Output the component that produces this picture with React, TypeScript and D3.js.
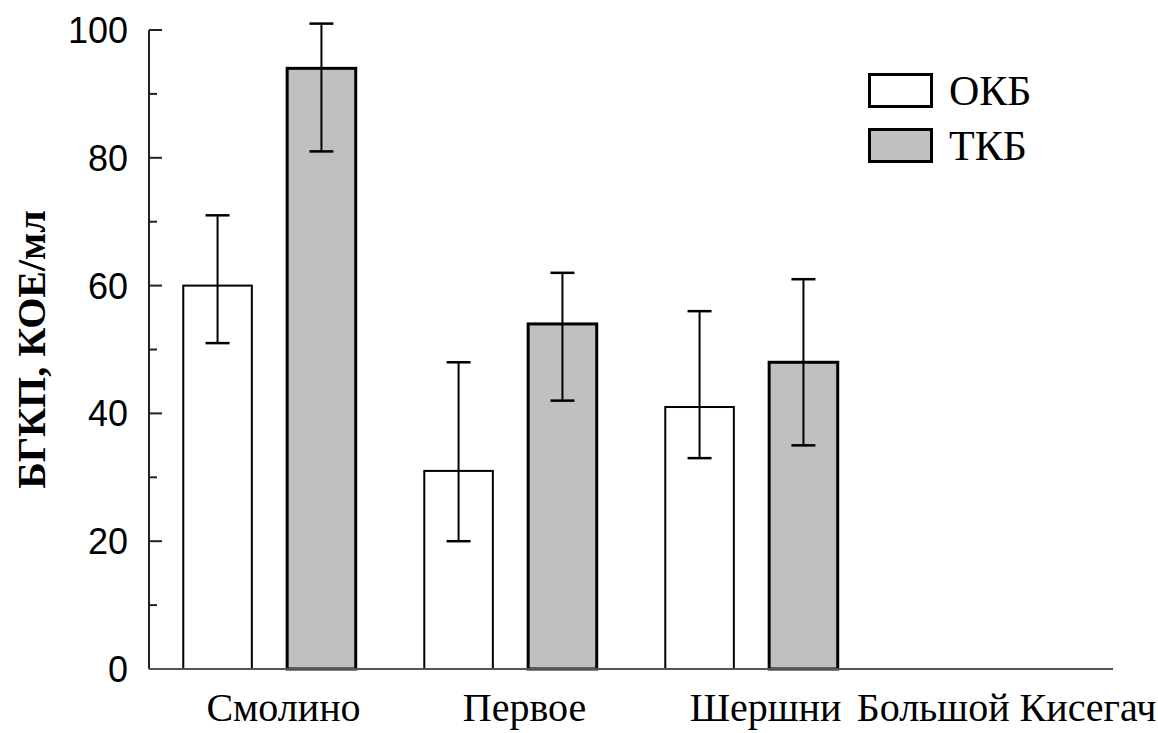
import { useEffect, useRef } from "react";
import * as d3 from "d3";

const categories = ["Смолино", "Первое", "Шершни", "Большой Кисегач"];
const series = ["ОКБ", "ТКБ"];
const okbValues = [60, 31, 41, null];
const okbLow = [51, 20, 33, null];
const okbHigh = [71, 48, 56, null];
const tkbValues = [94, 54, 48, null];
const tkbLow = [81, 42, 35, null];
const tkbHigh = [101, 62, 61, null];
const yTicks = [0, 20, 40, 60, 80, 100];
const yMinorTicks = [10, 30, 50, 70, 90];
const fills = ["#ffffff", "#c0c0c0"];

export default function App() {
  const ref = useRef<SVGSVGElement>(null);

  useEffect(() => {
    const width = 1158;
    const height = 733;
    const margin = { top: 30, right: 45, bottom: 64, left: 149 };
    const innerH = height - margin.top - margin.bottom;
    const innerW = width - margin.left - margin.right;
    const serif = "'Liberation Serif', 'Times New Roman', serif";
    const sans = "'Liberation Sans', Arial, sans-serif";

    const root = d3.select(ref.current);
    root.selectAll("*").remove();
    const svg = root.append("g").attr("transform", `translate(${margin.left},${margin.top})`);

    const x = d3.scaleBand().domain(categories).range([0, innerW]).padding(0);
    const xs = d3.scaleBand().domain(series).range([0, x.bandwidth()]).paddingInner(0.34).paddingOuter(0.33);
    const y = d3.scaleLinear().domain([0, 100]).range([innerH, 0]);

    const rows = categories.map((c, i) => [
      { cat: c, s: series[0], v: okbValues[i], lo: okbLow[i], hi: okbHigh[i], k: 0 },
      { cat: c, s: series[1], v: tkbValues[i], lo: tkbLow[i], hi: tkbHigh[i], k: 1 },
    ]).flat().filter(d => d.v != null);

    // bars
    svg.selectAll("rect.bar")
      .data(rows)
      .enter()
      .append("rect")
      .attr("class", "bar")
      .attr("x", d => x(d.cat)! + xs(d.s)!)
      .attr("y", d => y(d.v as number))
      .attr("width", xs.bandwidth())
      .attr("height", d => innerH - y(d.v as number))
      .attr("fill", d => fills[d.k])
      .attr("stroke", "#000")
      .attr("stroke-width", d => (d.k === 0 ? 2 : 3));

    // error bars
    const eb = svg.selectAll("g.err").data(rows).enter().append("g").attr("class", "err")
      .attr("transform", d => `translate(${x(d.cat)! + xs(d.s)! + xs.bandwidth() / 2},0)`);
    eb.append("line").attr("x1", 0).attr("x2", 0)
      .attr("y1", d => y(d.lo as number)).attr("y2", d => y(d.hi as number))
      .attr("stroke", "#000").attr("stroke-width", 2);
    eb.append("line").attr("x1", -12).attr("x2", 12)
      .attr("y1", d => y(d.lo as number)).attr("y2", d => y(d.lo as number))
      .attr("stroke", "#000").attr("stroke-width", 2.5);
    eb.append("line").attr("x1", -12).attr("x2", 12)
      .attr("y1", d => y(d.hi as number)).attr("y2", d => y(d.hi as number))
      .attr("stroke", "#000").attr("stroke-width", 2.5);

    // y axis
    const yAxis = svg.append("g");
    yAxis.append("line").attr("x1", 0).attr("x2", 0).attr("y1", 0).attr("y2", innerH)
      .attr("stroke", "#222").attr("stroke-width", 2);
    yAxis.selectAll("line.maj").data(yTicks).enter().append("line")
      .attr("x1", 0).attr("x2", 13).attr("y1", d => y(d)).attr("y2", d => y(d))
      .attr("stroke", "#222").attr("stroke-width", 2);
    yAxis.selectAll("line.min").data(yMinorTicks).enter().append("line")
      .attr("x1", 0).attr("x2", 8).attr("y1", d => y(d)).attr("y2", d => y(d))
      .attr("stroke", "#222").attr("stroke-width", 2);
    yAxis.selectAll("text").data(yTicks).enter().append("text")
      .attr("x", -21).attr("y", d => y(d)).attr("dy", "0.36em")
      .attr("text-anchor", "end").attr("font-family", sans).attr("font-size", 36)
      .attr("fill", "#000").text(d => d);

    // x axis
    svg.append("line").attr("x1", 0).attr("x2", innerW).attr("y1", innerH).attr("y2", innerH)
      .attr("stroke", "#555").attr("stroke-width", 2);
    svg.selectAll("text.cat").data(categories).enter().append("text")
      .attr("class", "cat")
      .attr("x", d => x(d)! + x.bandwidth() / 2 + 14)
      .attr("y", innerH + 52)
      .attr("text-anchor", "middle").attr("font-family", serif).attr("font-size", 40)
      .attr("fill", "#000").text(d => d);

    // y title
    svg.append("text")
      .attr("transform", `translate(${-margin.left + 45},${innerH / 2}) rotate(-90)`)
      .attr("text-anchor", "middle").attr("font-family", serif).attr("font-size", 40)
      .attr("font-weight", "bold").attr("fill", "#000").text("БГКП, КОЕ/мл");

    // legend
    const lg = svg.append("g").attr("transform", `translate(${868 - margin.left},${73 - margin.top})`);
    series.forEach((s, i) => {
      lg.append("rect").attr("x", 1.5).attr("y", i * 55 + 1.5).attr("width", 62).attr("height", 32)
        .attr("fill", fills[i]).attr("stroke", "#000").attr("stroke-width", 3);
      lg.append("text").attr("x", 81).attr("y", i * 55 + 32)
        .attr("font-family", serif).attr("font-size", 42).attr("fill", "#000").text(s);
    });
  }, []);

  return (
    <svg ref={ref} width={1158} height={733}
      style={{ position: "absolute", left: 0, top: 0, background: "#fff" }} />
  );
}
